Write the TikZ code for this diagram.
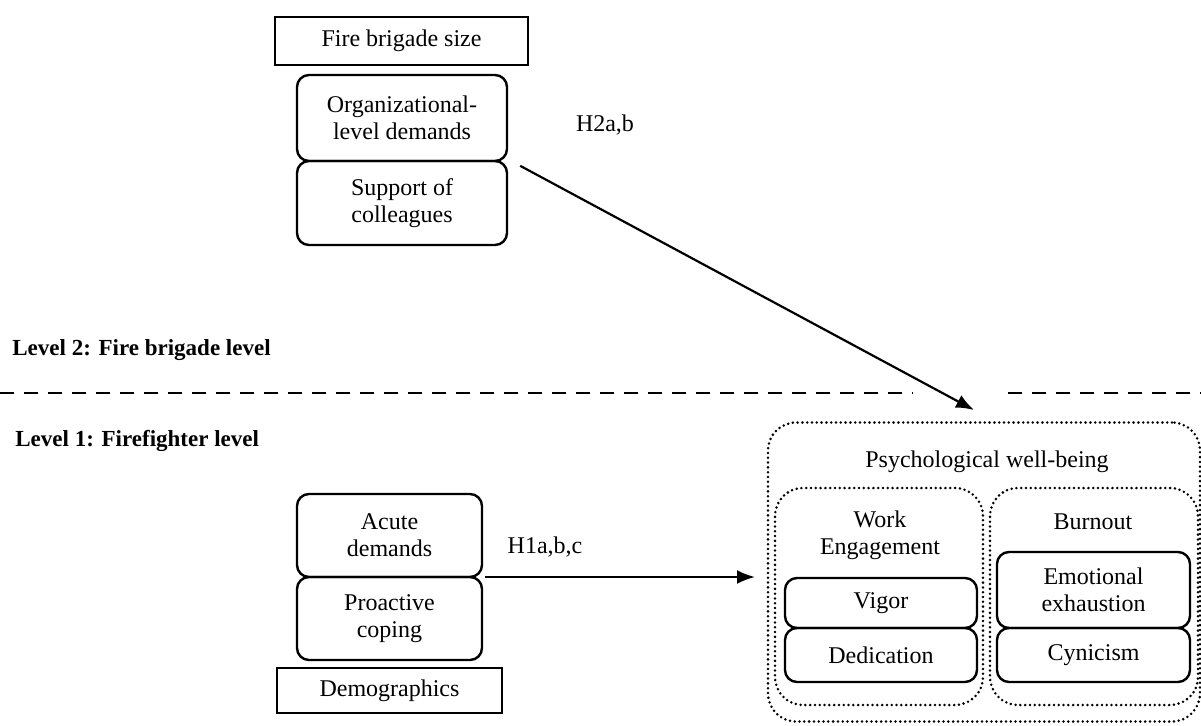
\documentclass[tikz,border=0pt]{standalone}
\usepackage{fontspec}
\setmainfont{Liberation Serif}
\usepackage{tikz}
\usetikzlibrary{positioning}
\usetikzlibrary{arrows.meta}

\tikzset{
	plainbox/.style={draw, line width=1.2pt, align=center, inner sep=0pt},
	roundbox/.style={draw, line width=1.2pt, rounded corners=6pt, align=center, inner sep=0pt},
	dotbox/.style={draw, line width=1.4pt, dash pattern=on 0pt off 2.4pt, line cap=round, rounded corners=14pt},
	levellabel/.style={font=\fontsize{11.5}{13}\selectfont\bfseries, anchor=west, inner sep=0pt},
	hyplabel/.style={inner sep=0pt},
	effect/.style={line width=1.1pt, -{Latex[length=9pt,width=7pt]}}
}

\begin{document}
\begin{tikzpicture}[x=0.5pt, y=-0.5pt, font=\fontsize{12}{13.5}\selectfont]
	\useasboundingbox (0,0) rectangle (1201,725);

	% level 2
	\node[plainbox, minimum width=126.5pt, minimum height=24pt] (size) at (401.5,41) {Fire brigade size};
	\node[roundbox, minimum width=105pt, minimum height=43pt] (orgdem) at (402,118) {Organizational-\\level demands};
	\node[roundbox, minimum width=105pt, minimum height=42pt] (support) at (402,203) {Support of\\colleagues};

	\node[levellabel] (lvltwo) at (12,350) {Level 2: Fire brigade level};
	\node[levellabel] (lvlone) at (15,441) {Level 1: Firefighter level};

	% separation line
	\coordinate (sepA) at (0,393);
	\coordinate (sepB) at (913,393);
	\coordinate (sepC) at (1008,393);
	\coordinate (sepD) at (1201,393);
	\draw[line width=1.3pt, dash pattern=on 7pt off 5pt] (sepA) -- (sepB);
	\draw[line width=1.3pt, dash pattern=on 7pt off 5pt] (sepC) -- (sepD);

	% level 1
	\node[roundbox, minimum width=92.5pt, minimum height=41.5pt] (acute) at (389.5,535.5) {Acute\\demands};
	\node[roundbox, minimum width=92.5pt, minimum height=41.5pt] (coping) at (389.5,618.5) {Proactive\\coping};
	\node[plainbox, minimum width=112.5pt, minimum height=22.5pt] (demo) at (389.5,690.5) {Demographics};

	% outcome
	\node[dotbox, minimum width=216pt, minimum height=149.5pt] (wellbeing) at (984,572) {};
	\node[hyplabel] (wbtitle) at (987,462) {Psychological well-being};
	\node[dotbox, minimum width=104pt, minimum height=108.5pt] (engage) at (879,596.5) {};
	\node[dotbox, minimum width=104pt, minimum height=108.5pt] (burnout) at (1094,596.5) {};
	\node[hyplabel, align=center] (engtitle) at (880,535) {Work\\Engagement};
	\node[hyplabel] (burntitle) at (1093,522) {Burnout};
	\node[roundbox, minimum width=96pt, minimum height=25pt] (vigor) at (881,603) {Vigor};
	\node[roundbox, minimum width=96pt, minimum height=27pt] (dedic) at (881,655) {Dedication};
	\node[roundbox, minimum width=96.5pt, minimum height=38pt] (exhaust) at (1093.5,590) {Emotional\\exhaustion};
	\node[roundbox, minimum width=96.5pt, minimum height=27pt] (cynic) at (1093.5,655) {Cynicism};

	% hypotheses
	\coordinate (hend) at (974,410);
	\draw[effect] (support.north east) ++(12,6) coordinate (hstart) -- (hend);
	\node[hyplabel] (htwo) at (605,125) {H2a,b};
	\coordinate (hlstart) at (485,577);
	\coordinate (hlend) at (755,577);
	\draw[effect] (hlstart) -- (hlend);
	\node[hyplabel] (hone) at (545,547) {H1a,b,c};
\end{tikzpicture}
\end{document}
